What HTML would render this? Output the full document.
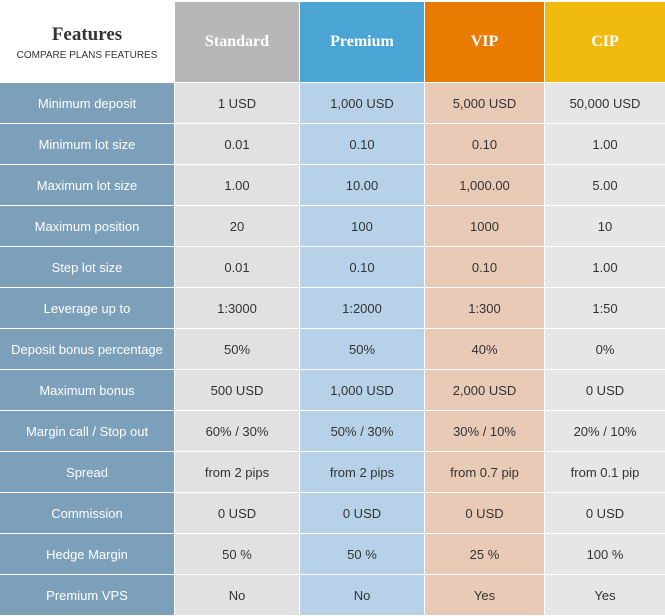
<!DOCTYPE html>
<html><head><meta charset="utf-8"><style>
html,body{margin:0;padding:0;background:#fff;width:665px;height:616px;overflow:hidden}
.g{position:absolute;left:0;top:2px;display:grid;grid-template-columns:174px 124px 124px 119px 120px;grid-template-rows:80px repeat(13,40px);gap:1px;background:#fff;width:665px}
.g div{display:flex;align-items:center;justify-content:center;font-family:"Liberation Sans",sans-serif;font-size:13px;color:#333;text-align:center}
.hf{flex-direction:column;background:#fff}
.hf b{font-family:"Liberation Serif",serif;font-size:19px;color:#333}
.hf span{font-size:10px;color:#333;margin-top:4px}
.h{font-family:"Liberation Serif",serif!important;font-weight:bold;font-size:16px!important;color:#fff!important}
.f{background:#7c9fba;color:#fff!important}
.s{background:#e1e1e1}.p{background:#b7d2e8}.v{background:#e8cab6}.c{background:#e6e6e6}
</style></head><body>
<div class="g">
<div class="hf"><b>Features</b><span>COMPARE PLANS FEATURES</span></div>
<div class="h" style="background:#b7b7b7">Standard</div>
<div class="h" style="background:#4ba5d4">Premium</div>
<div class="h" style="background:#e97c00">VIP</div>
<div class="h" style="background:#f0bb0e">CIP</div>
</div>
<script>
const features=["Minimum deposit","Minimum lot size","Maximum lot size","Maximum position","Step lot size","Leverage up to","Deposit bonus percentage","Maximum bonus","Margin call / Stop out","Spread","Commission","Hedge Margin","Premium VPS"];
const standard=["1 USD","0.01","1.00","20","0.01","1:3000","50%","500 USD","60% / 30%","from 2 pips","0 USD","50 %","No"];
const premium=["1,000 USD","0.10","10.00","100","0.10","1:2000","50%","1,000 USD","50% / 30%","from 2 pips","0 USD","50 %","No"];
const vip=["5,000 USD","0.10","1,000.00","1000","0.10","1:300","40%","2,000 USD","30% / 10%","from 0.7 pip","0 USD","25 %","Yes"];
const cip=["50,000 USD","1.00","5.00","10","1.00","1:50","0%","0 USD","20% / 10%","from 0.1 pip","0 USD","100 %","Yes"];
const g=document.querySelector('.g');
features.forEach((f,i)=>{
  const cells=[[f,'f','feature-label'],[standard[i],'s','standard-cell'],[premium[i],'p','premium-cell'],[vip[i],'v','vip-cell'],[cip[i],'c','cip-cell']];
  cells.forEach(([t,cl,n])=>{
    const d=document.createElement('div');
    d.className=cl;d.textContent=t;
    
    
    g.appendChild(d);
  });
});
</script>
</body></html>
